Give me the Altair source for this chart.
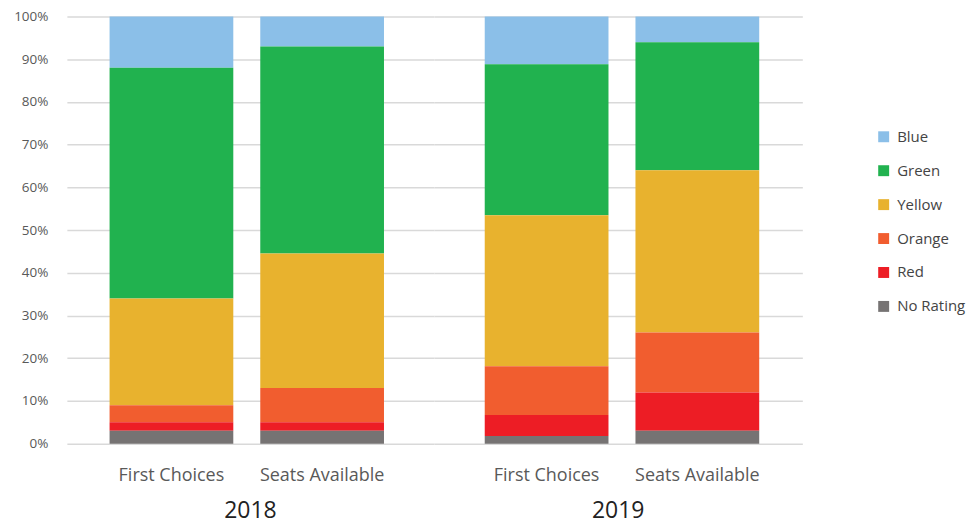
import altair as alt
import pandas as pd

years = ["2018", "2018", "2019", "2019"]
types = ["First Choices", "Seats Available", "First Choices", "Seats Available"]
ratings = ["Blue", "Green", "Yellow", "Orange", "Red", "No Rating"]
colors = ["#8BBFE8", "#21B24F", "#E8B22E", "#F15D2F", "#ED1D25", "#767373"]

no_rating = [3.0, 3.0, 1.8, 3.0]
red = [2.0, 2.0, 4.9, 9.0]
orange = [4.0, 8.0, 11.4, 14.0]
yellow = [25.0, 31.5, 35.4, 38.0]
green = [54.0, 48.5, 35.3, 30.0]
blue = [12.0, 7.0, 11.2, 6.0]

series = {"Blue": blue, "Green": green, "Yellow": yellow, "Orange": orange,
          "Red": red, "No Rating": no_rating}

rows = []
for i in range(len(years)):
    for r in ratings:
        rows.append({"Year": years[i], "Type": types[i], "Rating": r,
                     "Share": series[r][i] / 100.0,
                     "Rank": len(ratings) - ratings.index(r)})
df = pd.DataFrame(rows)

type_order = ["First Choices", "Seats Available"]
grid_vals = [i / 10 for i in range(11)]
FONT = "Open Sans"


def panel(year, w, po, align, show_y):
    if show_y:
        yaxis = alt.Axis(format=".0%", values=grid_vals, title=None, ticks=False,
                         domain=False, labelFontSize=13.5, labelColor="#595959",
                         labelPadding=19, gridColor="#d9d9d9", gridWidth=1.5)
    else:
        yaxis = alt.Axis(values=grid_vals, title=None, ticks=False, labels=False,
                         domain=False, gridColor="#d9d9d9", gridWidth=1.5,
                         minExtent=0, maxExtent=0)
    return alt.Chart(df[df.Year == year]).mark_bar().encode(
        x=alt.X("Type:N", sort=type_order,
                scale=alt.Scale(paddingInner=0.179, paddingOuter=po, align=align),
                axis=alt.Axis(title=None, labelAngle=0, labelFontSize=18,
                              labelColor="#595959", labelPadding=23, ticks=False,
                              domain=False, grid=False)),
        y=alt.Y("Share:Q", stack="zero", scale=alt.Scale(domain=[0, 1]), axis=yaxis),
        color=alt.Color("Rating:N", scale=alt.Scale(domain=ratings, range=colors),
                        legend=alt.Legend(title=None, orient="none", legendX=811,
                                          legendY=113, labelFontSize=15,
                                          labelColor="#444444", symbolType="square",
                                          symbolSize=120, symbolStrokeWidth=0,
                                          rowPadding=18, labelOffset=6, padding=0)),
        order=alt.Order("Rank:Q", sort="ascending"),
    ).properties(width=w, height=428,
                 title=alt.TitleParams(year, orient="bottom", fontSize=23,
                                       fontWeight="normal", color="#222222",
                                       offset=16))


chart = alt.hconcat(
    panel("2018", 368, 0.308, 0.46, True),
    panel("2019", 369, 0.311, 0.54, False),
    spacing=0,
).configure(
    font=FONT,
    padding={"top": 1, "bottom": 0, "left": 5, "right": 0},
).configure_view(stroke=None)

chart.save("out.html", embed_options={"renderer": "svg", "actions": False})
